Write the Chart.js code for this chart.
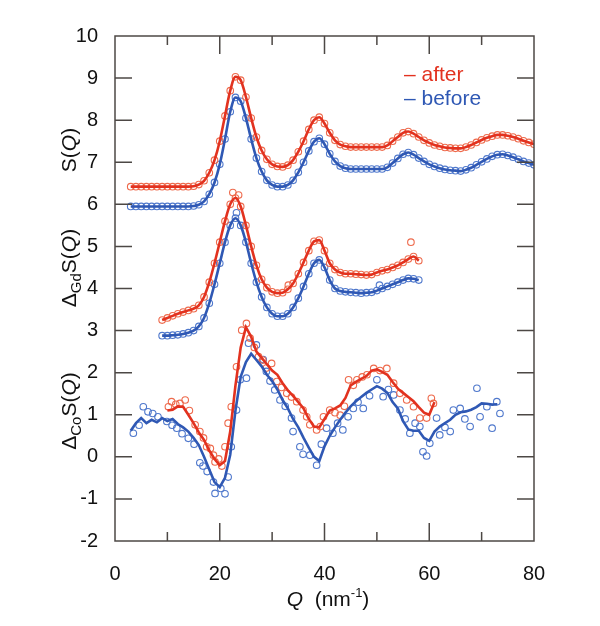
<!DOCTYPE html>
<html>
<head>
<meta charset="utf-8">
<script src="https://cdn.jsdelivr.net/npm/chart.js@4/dist/chart.umd.min.js"></script>
<style>
  html, body { margin: 0; padding: 0; background: #fff; }
  #wrap { width: 600px; height: 626px; }
</style>
</head>
<body>
<div id="wrap"><canvas id="chart" width="600" height="626"></canvas></div>
<script>
// S(Q), Q = 3..80 step 1
const qS = [3,4,5,6,7,8,9,10,11,12,13,14,15,16,17,18,19,20,21,22,23,24,25,26,27,28,29,30,31,32,33,34,35,36,37,38,39,40,41,42,43,44,45,46,47,48,49,50,51,52,53,54,55,56,57,58,59,60,61,62,63,64,65,66,67,68,69,70,71,72,73,74,75,76,77,78,79,80];
const sAfter = [6.42,6.42,6.42,6.42,6.42,6.42,6.42,6.42,6.42,6.42,6.42,6.42,6.43,6.47,6.56,6.75,7.05,7.5,8.1,8.7,9.03,8.95,8.55,8.05,7.6,7.28,7.07,6.95,6.9,6.89,6.93,7.05,7.25,7.5,7.78,8.0,8.07,7.92,7.7,7.52,7.42,7.38,7.36,7.36,7.36,7.36,7.36,7.36,7.36,7.4,7.5,7.6,7.7,7.73,7.68,7.6,7.52,7.46,7.41,7.38,7.35,7.34,7.33,7.33,7.36,7.41,7.47,7.53,7.58,7.62,7.65,7.65,7.63,7.6,7.56,7.51,7.47,7.43];
const sBefore = [5.95,5.95,5.95,5.95,5.95,5.95,5.95,5.95,5.95,5.95,5.95,5.95,5.96,5.99,6.07,6.24,6.52,6.95,7.55,8.2,8.54,8.45,8.05,7.55,7.1,6.78,6.57,6.46,6.42,6.42,6.46,6.57,6.76,7.0,7.27,7.49,7.57,7.43,7.2,7.02,6.91,6.86,6.84,6.84,6.84,6.84,6.84,6.84,6.84,6.88,6.98,7.09,7.19,7.23,7.18,7.1,7.02,6.95,6.9,6.86,6.83,6.81,6.8,6.79,6.82,6.87,6.94,7.01,7.08,7.14,7.18,7.19,7.16,7.12,7.07,7.02,6.98,6.94];

// Delta_Gd S(Q), Q = 9..58
const qGd = [9,10,11,12,13,14,15,16,17,18,19,20,21,22,23,24,25,26,27,28,29,30,31,32,33,34,35,36,37,38,39,40,41,42,43,44,45,46,47,48,49,50,51,52,53,54,55,56,57,58];
const gdAfter = [3.25,3.3,3.35,3.4,3.44,3.48,3.52,3.6,3.8,4.15,4.6,5.1,5.6,6.0,6.15,5.95,5.5,5.0,4.55,4.22,4.02,3.92,3.89,3.9,3.98,4.12,4.35,4.62,4.9,5.12,5.15,4.9,4.6,4.45,4.38,4.35,4.35,4.34,4.33,4.32,4.33,4.38,4.42,4.45,4.5,4.55,4.62,4.7,4.76,4.66];
const gdBefore = [2.88,2.88,2.89,2.9,2.92,2.95,3.0,3.1,3.3,3.65,4.1,4.6,5.1,5.5,5.67,5.5,5.1,4.6,4.15,3.8,3.55,3.4,3.34,3.34,3.4,3.55,3.77,4.05,4.35,4.6,4.68,4.5,4.2,4.0,3.94,3.92,3.91,3.9,3.89,3.9,3.91,3.95,4.0,4.05,4.1,4.15,4.2,4.24,4.23,4.2];
const gdAfterOddQ = [22.5, 23.6, 33.1, 56.5];
const gdAfterOddV = [6.28, 6.22, 4.08, 5.1];
const gdBeforeOddQ = [23.2, 50.5];
const gdBeforeOddV = [5.8, 4.08];

// Delta_Co S(Q), fitted lines
const qCoAfter = [10,11,12,13,14,15,16,17,18,19,20,21,22,23,24,25,26,27,28,29,30,31,32,33,34,35,36,37,38,39,40,41,42,43,44,45,46,47,48,49,50,51,52,53,54,55,56,57,58,59,60,61];
const coAfter = [1.1,1.12,1.2,1.19,1.0,0.8,0.58,0.4,0.15,-0.05,-0.2,-0.1,0.6,1.7,2.6,3.08,2.85,2.5,2.35,2.2,2.05,1.95,1.75,1.58,1.45,1.3,1.15,0.9,0.72,0.7,0.9,1.1,1.15,1.22,1.4,1.7,1.78,1.85,1.92,2.05,2.08,2.02,1.95,1.78,1.62,1.52,1.42,1.32,1.18,1.05,1.0,1.3];
const qCoBefore = [3,4,5,6,7,8,9,10,11,12,13,14,15,16,17,18,19,20,21,22,23,24,25,26,27,28,29,30,31,32,33,34,35,36,37,38,39,40,41,42,43,44,45,46,47,48,49,50,51,52,53,54,55,56,57,58,59,60,61,62,63,64,65,66,67,68,69,70,71,72,73];
const coBefore = [0.62,0.8,0.92,0.8,0.88,0.82,0.92,0.85,0.9,0.78,0.7,0.6,0.45,0.28,0.0,-0.3,-0.6,-0.72,-0.5,0.05,1.1,1.9,2.25,2.45,2.3,2.15,1.95,1.8,1.6,1.35,1.15,0.9,0.7,0.45,0.22,0.0,-0.1,0.25,0.5,0.7,0.88,1.05,1.2,1.32,1.42,1.52,1.6,1.68,1.62,1.52,1.3,1.15,0.85,0.65,0.62,0.62,0.45,0.38,0.6,0.72,0.8,0.88,1.0,1.06,1.08,1.12,1.18,1.27,1.26,1.24,1.25];

// Delta_Co S(Q), measured points
const coAfterPtsQ = [10.2,10.8,11.6,12.4,13.4,14.2,15.3,16.2,16.9,17.5,18.2,18.8,19.1,19.8,20.4,21,21.6,22.2,23.2,24.2,25.1,25.8,26.6,27.4,28.2,28.9,29.9,30.9,31.8,32.8,33.7,34.7,35.9,36.6,37.2,38.5,39.2,39.8,41,42,43,43.8,44.6,45.5,46.2,47.2,48.1,49.4,50.6,51.9,53.2,54.4,55.7,57,58.2,59.5,60.4,60.8];
const coAfterPtsV = [1.19,1.31,1.25,1.27,1.35,1.1,0.76,0.6,0.45,0.24,0.2,0.04,-0.12,-0.05,-0.22,0.24,0.8,1.19,2.14,3.01,3.17,2.82,2.6,2.38,2.3,2.11,2.22,1.79,1.65,1.51,1.42,1.31,1.11,0.95,0.76,0.64,0.72,0.95,1.11,1.05,0.99,1.2,1.83,1.7,1.83,1.9,1.95,2.1,2.05,2.1,1.75,1.51,1.35,1.19,0.92,0.92,1.39,1.27];
const coBeforePtsQ = [3.5,4.6,5.4,6.3,7.2,8.2,9.9,10.9,11.8,12.8,14,15.1,16.2,16.8,17.6,18.8,19.1,20.2,21,21.6,22.2,23.2,23.9,25.1,25.5,27,28.3,28.9,29.6,30.5,31.5,32.5,33.7,34,35.3,35.9,37.2,38.5,39.4,40.4,41.6,42.5,43.5,44.5,45.5,46.4,47.4,48.6,50,51.2,52.2,53.2,54.4,55.4,56.3,57.3,58.2,58.8,59.5,60.1,61.4,62,63,64,64.6,65.9,66.8,67.8,69.1,69.7,71,72,72.9,73.5];
const coBeforePtsV = [0.56,0.75,1.19,1.07,1.03,0.95,0.84,0.75,0.68,0.55,0.44,0.3,-0.14,-0.22,-0.35,-0.6,-0.87,-0.75,-0.88,-0.48,0.24,1.11,1.83,1.87,2.7,2.66,2.31,2.03,1.8,1.59,1.35,1.2,0.92,0.6,0.24,0.06,0.04,-0.2,0.3,0.68,0.56,0.8,0.64,0.95,1.15,1.3,1.15,1.45,1.83,1.43,1.6,1.47,1.11,0.9,0.56,0.8,0.72,0.12,0.02,0.32,0.92,0.52,0.7,0.6,1.11,1.15,0.9,0.72,1.63,0.95,1.19,0.68,1.31,1.03];

const xTicks = [0, 20, 40, 60, 80];
const yMin = -2, yMax = 10;

const RED = '#e2321f';
const RED_PT = '#ee6a4c';
const BLUE = '#2f58b4';
const BLUE_PT = '#4f78cc';

function pts(qs, vs) {
  return qs.map((q, i) => ({ x: q, y: vs[i] }));
}

function lineSet(qs, vs, color, smooth) {
  return {
    data: pts(qs, vs),
    borderColor: color,
    borderWidth: 2.6,
    pointRadius: 0,
    fill: false,
    tension: 0,
    cubicInterpolationMode: smooth ? 'monotone' : 'default'
  };
}

function pointSet(qs, vs, color) {
  return {
    data: pts(qs, vs),
    showLine: false,
    pointStyle: 'circle',
    pointRadius: 3.3,
    pointBorderWidth: 1.1,
    pointBorderColor: color,
    pointBackgroundColor: 'rgba(255,255,255,0)'
  };
}

// draws a run of text pieces, each with its own font and baseline shift, centred on x
function drawPieces(ctx, pieces, x, y) {
  let total = 0;
  pieces.forEach(p => { ctx.font = p.font; total += ctx.measureText(p.text).width; });
  let cx = x - total / 2;
  pieces.forEach(p => {
    ctx.font = p.font;
    ctx.fillText(p.text, cx, y + (p.dy || 0));
    cx += ctx.measureText(p.text).width;
  });
}

const FONT = '"Liberation Sans", Arial, sans-serif';

const framePlugin = {
  id: 'frame',
  afterDraw(chart) {
    const ctx = chart.ctx;
    const a = chart.chartArea;
    const xs = chart.scales.x, ys = chart.scales.y;
    ctx.save();
    ctx.strokeStyle = '#4d4845';
    ctx.lineWidth = 1.5;
    ctx.strokeRect(a.left, a.top, a.right - a.left, a.bottom - a.top);
    // x ticks, pointing inward, minor at odd tens
    for (let v = 10; v < 80; v += 10) {
      const px = xs.getPixelForValue(v);
      const len = v % 20 === 0 ? 18 : 9;
      ctx.beginPath();
      ctx.moveTo(px, a.bottom); ctx.lineTo(px, a.bottom - len);
      ctx.moveTo(px, a.top); ctx.lineTo(px, a.top + len);
      ctx.stroke();
    }
    for (let v = yMin + 1; v < yMax; v++) {
      const py = ys.getPixelForValue(v);
      ctx.beginPath();
      ctx.moveTo(a.left, py); ctx.lineTo(a.left + 17, py);
      ctx.moveTo(a.right, py); ctx.lineTo(a.right - 17, py);
      ctx.stroke();
    }

    // legend
    ctx.textBaseline = 'middle';
    ctx.textAlign = 'left';
    ctx.font = '21px ' + FONT;
    ctx.fillStyle = RED;
    ctx.fillText('\u2013 after', 404, 75);
    ctx.fillStyle = BLUE;
    ctx.fillText('\u2013 before', 404, 99);

    // axis titles
    ctx.fillStyle = '#111';
    ctx.textBaseline = 'alphabetic';
    const reg = '21px ' + FONT;
    const ital = 'italic 21px ' + FONT;
    const sub = '15px ' + FONT;
    drawPieces(ctx, [
      { text: 'Q', font: ital },
      { text: '  (nm', font: reg },
      { text: '-1', font: '13px ' + FONT, dy: -9 },
      { text: ')', font: reg }
    ], 328, 606);

    const yTitles = [
      { cy: 150, pieces: [{ text: 'S(', font: reg }, { text: 'Q', font: ital }, { text: ')', font: reg }] },
      { cy: 268, pieces: [{ text: '\u0394', font: reg }, { text: 'Gd', font: sub, dy: 5 }, { text: 'S(', font: reg }, { text: 'Q', font: ital }, { text: ')', font: reg }] },
      { cy: 411, pieces: [{ text: '\u0394', font: reg }, { text: 'Co', font: sub, dy: 5 }, { text: 'S(', font: reg }, { text: 'Q', font: ital }, { text: ')', font: reg }] }
    ];
    yTitles.forEach(t => {
      ctx.save();
      ctx.translate(76, t.cy);
      ctx.rotate(-Math.PI / 2);
      drawPieces(ctx, t.pieces, 0, 0);
      ctx.restore();
    });
    ctx.restore();
  }
};

new Chart(document.getElementById('chart'), {
  type: 'line',
  data: {
    datasets: [
      lineSet(qS, sAfter, RED, true),
      lineSet(qS, sBefore, BLUE, true),
      lineSet(qGd, gdAfter, RED, true),
      lineSet(qGd, gdBefore, BLUE, true),
      lineSet(qCoAfter, coAfter, RED, false),
      lineSet(qCoBefore, coBefore, BLUE, false),
      pointSet(qS, sAfter, RED_PT),
      pointSet(qS, sBefore, BLUE_PT),
      pointSet(qGd, gdAfter, RED_PT),
      pointSet(qGd, gdBefore, BLUE_PT),
      pointSet(gdAfterOddQ, gdAfterOddV, RED_PT),
      pointSet(gdBeforeOddQ, gdBeforeOddV, BLUE_PT),
      pointSet(coAfterPtsQ, coAfterPtsV, RED_PT),
      pointSet(coBeforePtsQ, coBeforePtsV, BLUE_PT)
    ]
  },
  options: {
    responsive: false,
    animation: false,
    layout: { padding: { top: 36, right: 66, left: 0, bottom: 0 } },
    plugins: { legend: { display: false }, tooltip: { enabled: false } },
    scales: {
      x: {
        type: 'linear',
        min: 0, max: 80,
        grid: { display: false },
        border: { display: false },
        afterBuildTicks: s => { s.ticks = xTicks.map(v => ({ value: v })); },
        afterFit: s => { s.height = 85; },
        ticks: { color: '#111', padding: 13, font: { family: FONT, size: 20 } }
      },
      y: {
        min: yMin, max: yMax,
        grid: { display: false },
        border: { display: false },
        afterFit: s => { s.width = 115; },
        ticks: { stepSize: 1, color: '#111', padding: 9, font: { family: FONT, size: 20 } }
      }
    }
  },
  plugins: [framePlugin]
});
</script>
</body>
</html>
